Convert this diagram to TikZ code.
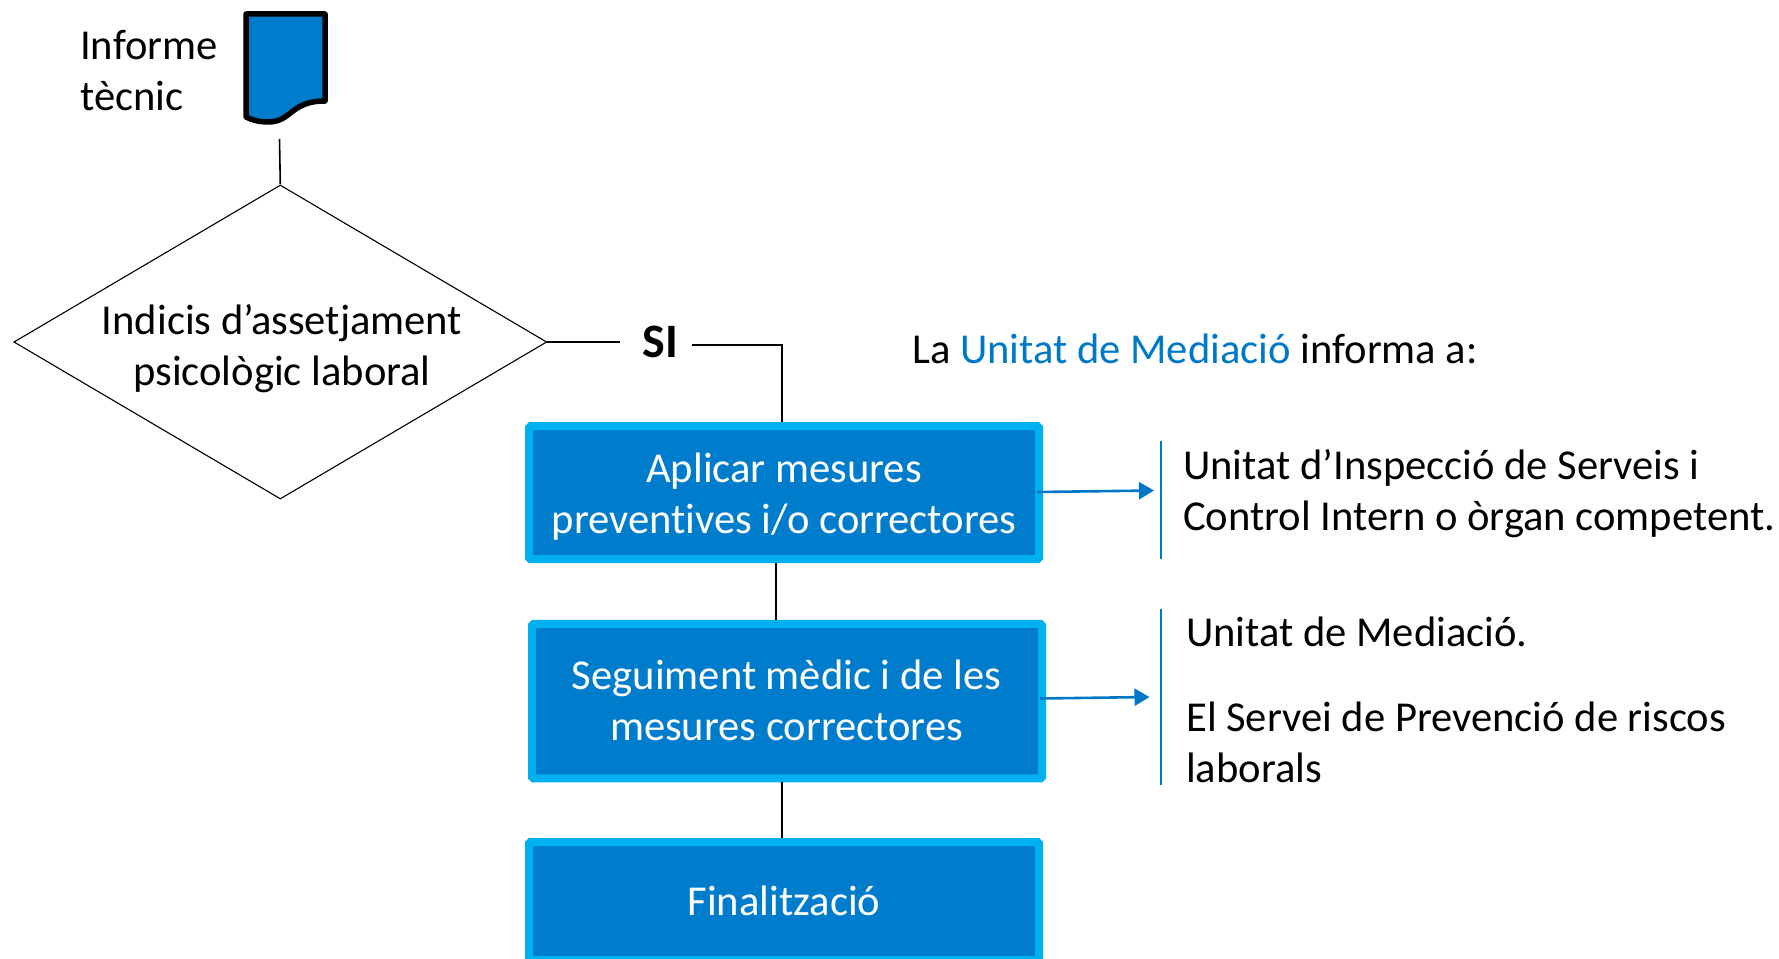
\documentclass[tikz,border=0pt]{standalone}
\usepackage{fontspec}
\setmainfont{Carlito}[Ligatures=NoCommon]
\usetikzlibrary{arrows.meta,shapes.geometric}
\definecolor{boxblue}{HTML}{007CCC}
\definecolor{edgeblue}{HTML}{00B0F0}
\definecolor{textblue}{HTML}{0078C8}
\tikzset{
  flowbox/.style={draw=edgeblue,fill=boxblue,line width=8pt,rounded corners=1.5pt,text=white,align=center,inner sep=0pt,font=\fontsize{42.6}{51}\selectfont},
  boxtext/.style={text=white,align=center,inner sep=0pt,font=\fontsize{42.6}{51}\selectfont},
  label/.style={inner sep=0pt,anchor=west,align=left,font=\fontsize{42.6}{51}\selectfont},
  link/.style={draw=black,line width=1.6pt},
  bluelink/.style={draw=textblue,line width=2.6pt},
  bluearrow/.style={bluelink,-{Triangle[length=15pt,width=17pt]}}
}
\begin{document}
\begin{tikzpicture}[x=1pt,y=-1pt]
\useasboundingbox (0,0) rectangle (1779,958);
% document symbol
\filldraw[fill=boxblue,draw=black,line width=5.5pt,line join=round]
  (246,14) -- (325,14) -- (325,101)
  .. controls (290,101) and (292,122) .. (268,122)
  .. controls (259,122) and (252,120) .. (246,117) -- cycle;
\coordinate (docbase) at (279.5,139);
\node[label] (inf) at (80,70.5) {Informe\\tècnic};
% decision
\node[draw=black,line width=1.1pt,diamond,aspect=1.7,inner sep=0pt,minimum width=533pt,minimum height=314pt] (dec) at (280.3,342) {};
\node[inner sep=0pt,align=center,font=\fontsize{42.6}{51}\selectfont] (dectext) at (282,348.5) {Indicis d’assetjament\\psicològic laboral};
\node[inner sep=0pt,font=\fontsize{48}{54}\selectfont\bfseries] (si) at (660.5,342) {SI};
% boxes
\node[flowbox,minimum width=510pt,minimum height=133pt] (b1) at (784,492.7) {};
\node[boxtext] (b1text) at (784,496.5) {Aplicar mesures\\preventives i/o correctores};
\node[flowbox,minimum width=510pt,minimum height=154.5pt] (b2) at (787,701.2) {};
\node[boxtext] (b2text) at (786.5,700.5) {Seguiment mèdic i de les\\mesures correctores};
\node[flowbox,minimum width=510pt,minimum height=118pt] (b3) at (784,901) {Finalització};
% connectors
\coordinate (sileft) at (620,342);
\coordinate (siright) at (692,345);
\coordinate (sicorner) at (782,345);
\draw[link] (docbase) -- (dec.north);
\draw[link] (dec.east) -- (sileft);
\draw[link] (siright) -- (sicorner) -- (sicorner |- b1.north);
\coordinate (m1) at (776,0);
\draw[link] (m1 |- b1.south) -- (m1 |- b2.north);
\coordinate (m2) at (782,0);
\draw[link] (m2 |- b2.south) -- (m2 |- b3.north);
% right side
\node[label] (la) at (912,349) {La \textcolor{textblue}{Unitat de Mediació} informa a:};
\coordinate (a1s) at (1037,492);
\coordinate (a1e) at (1154,490.5);
\coordinate (a2s) at (1040,698.5);
\coordinate (a2e) at (1149.5,697);
\draw[bluearrow] (a1s) -- (a1e);
\draw[bluearrow] (a2s) -- (a2e);
\coordinate (v1t) at (1161,441);
\coordinate (v1b) at (1161,559);
\coordinate (v2t) at (1161,609);
\coordinate (v2b) at (1161,785);
\draw[bluelink] (v1t) -- (v1b);
\draw[bluelink] (v2t) -- (v2b);
\node[label] (r1) at (1183,493.5) {Unitat d’Inspecció de Serveis i\\Control Intern o òrgan competent.};
\node[label] (r2) at (1186,632) {Unitat de Mediació.};
\node[label] (r3) at (1186,742) {El Servei de Prevenció de riscos\\laborals};
\end{tikzpicture}
\end{document}
